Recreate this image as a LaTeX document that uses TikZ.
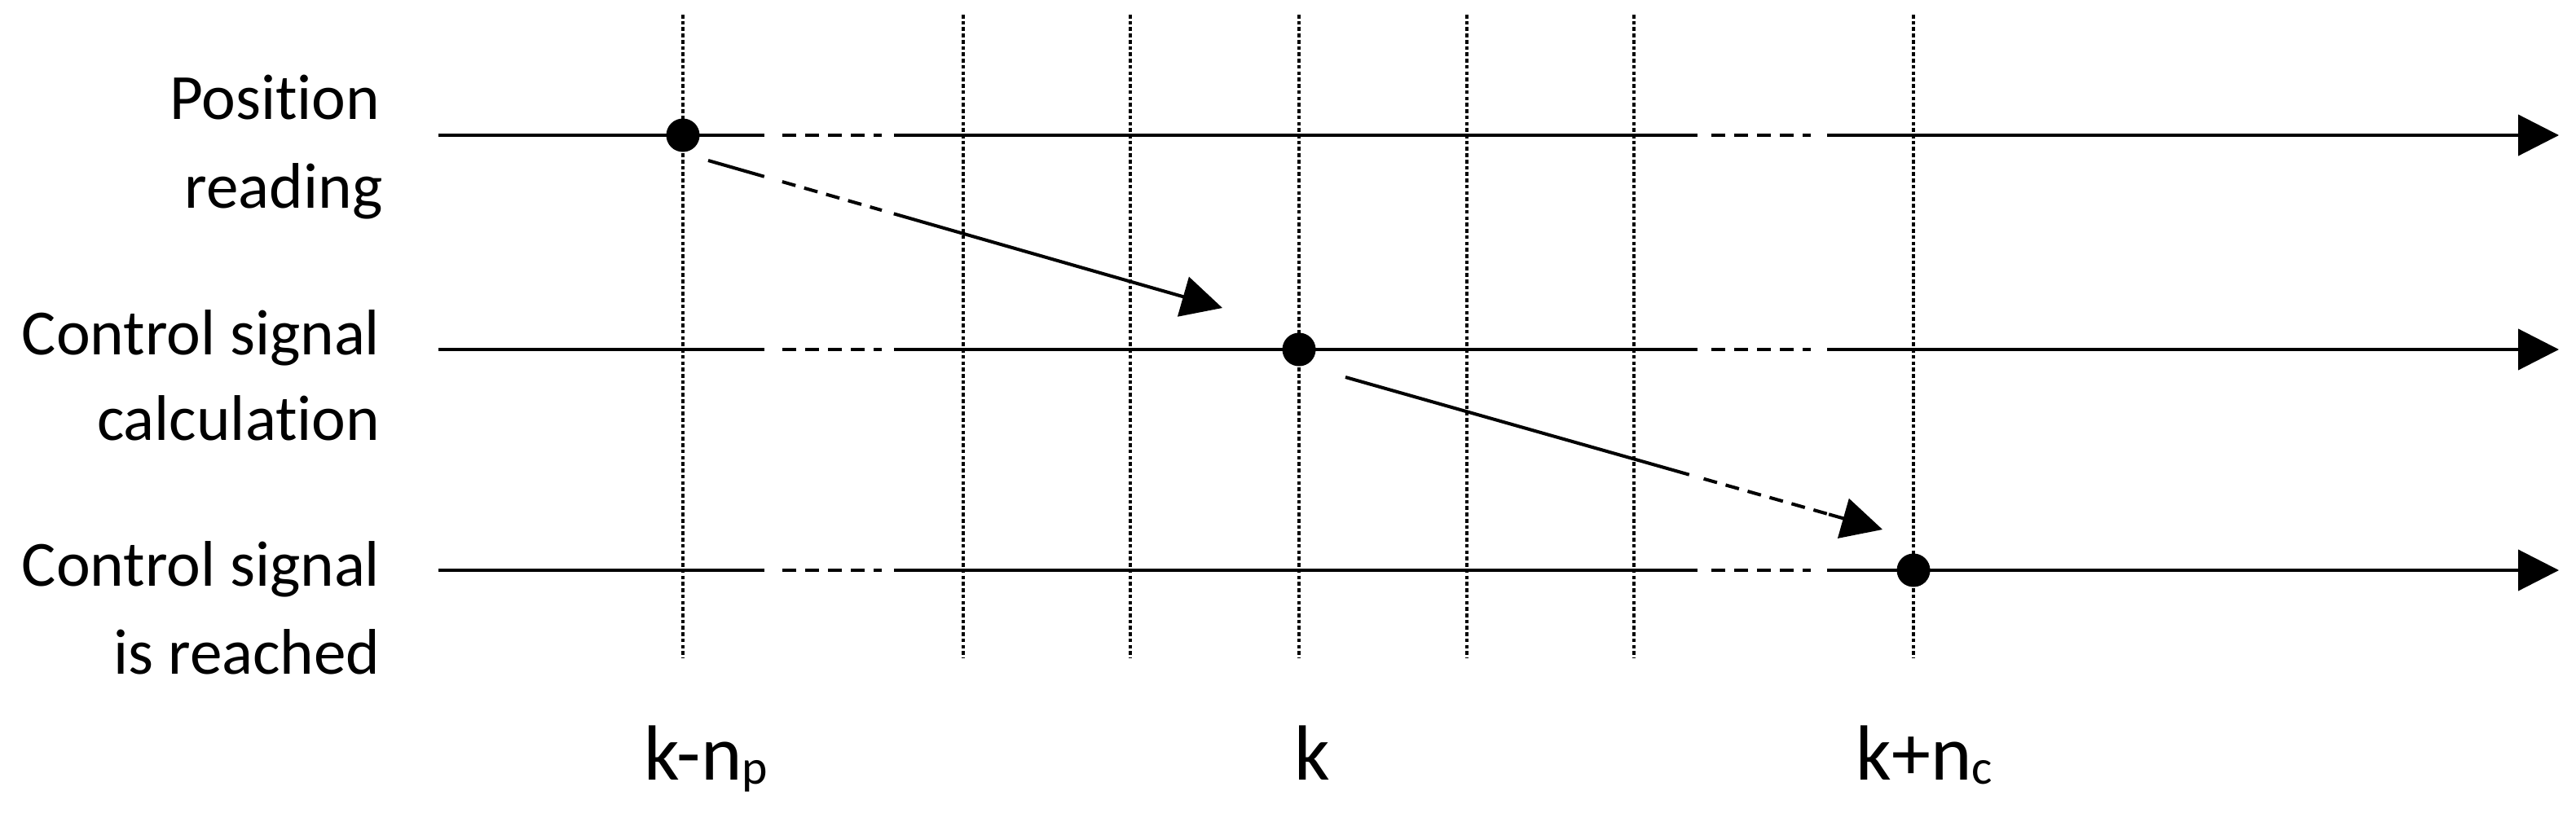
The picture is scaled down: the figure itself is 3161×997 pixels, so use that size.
\documentclass[tikz,border=0pt]{standalone}
\usepackage{fontspec}
\setmainfont[Ligatures={NoCommon}]{Carlito}
\usetikzlibrary{arrows.meta,calc}
\newcommand\subtx[1]{\raisebox{-0.05cm}{\fontsize{17}{18}\selectfont #1}}
\begin{document}
\begin{tikzpicture}[x=0.01cm,y=-0.01cm,
  tl/.style={line width=1.15pt},
  gapdash/.style={line width=1.15pt, dash pattern=on 0.17cm off 0.11cm},
  gridline/.style={line width=0.9pt, dash pattern=on 1.3pt off 0.9pt},
  dot/.style={circle, fill=black, inner sep=0pt, minimum size=0.41cm},
  lab/.style={font=\fontsize{22.5}{27}\selectfont, anchor=base east, inner sep=0pt},
  tick/.style={font=\fontsize{27.3}{32}\selectfont, anchor=base west, inner sep=0pt},
  head/.style={-{Triangle[length=0.5cm,width=0.5cm]}},
]
\useasboundingbox (0,0) rectangle (3161,997);

% vertical dotted grid
\foreach \x [count=\i] in {838,1182,1387,1594,1800,2005,2348} {
  \coordinate (g\i-t) at (\x,18);
  \coordinate (g\i-b) at (\x,808);
  \draw[gridline] (g\i-t) -- (g\i-b);
}

% horizontal time lines
\foreach \y [count=\j] in {166,429,700} {
  \coordinate (h\j-a) at (538,\y);
  \coordinate (h\j-b) at (938,\y);
  \coordinate (h\j-c) at (960,\y);
  \coordinate (h\j-d) at (1082,\y);
  \coordinate (h\j-e) at (1097,\y);
  \coordinate (h\j-f) at (2083,\y);
  \coordinate (h\j-g) at (2100,\y);
  \coordinate (h\j-h) at (2222,\y);
  \coordinate (h\j-i) at (2242,\y);
  \coordinate (h\j-z) at (3140,\y);
  \draw[tl] (h\j-a) -- (h\j-b);
  \draw[gapdash] (h\j-c) -- (h\j-d);
  \draw[tl] (h\j-e) -- (h\j-f);
  \draw[gapdash] (h\j-g) -- (h\j-h);
  \draw[tl,head] (h\j-i) -- (h\j-z);
}

% event dots
\node[dot] (d1) at (838,166) {};
\node[dot] (d2) at (1594,429) {};
\node[dot] (d3) at (2348,700) {};

% diagonal arrow 1
\coordinate (a1s) at (869,197);
\coordinate (a1t) at (1500,378);
\coordinate (a1p) at ($(a1s)!0.109!(a1t)$);
\coordinate (a1q) at ($(a1s)!0.144!(a1t)$);
\coordinate (a1r) at ($(a1s)!0.3376!(a1t)$);
\coordinate (a1u) at ($(a1s)!0.361!(a1t)$);
\draw[tl] (a1s) -- (a1p);
\draw[gapdash] (a1q) -- (a1r);
\draw[tl,head] (a1u) -- (a1t);

% diagonal arrow 2
\coordinate (a2s) at (1651,463);
\coordinate (a2t) at (2310,650);
\coordinate (a2p) at ($(a2s)!0.640!(a2t)$);
\coordinate (a2q) at ($(a2s)!0.667!(a2t)$);
\coordinate (a2r) at ($(a2s)!0.905!(a2t)$);
\coordinate (a2u) at ($(a2s)!0.90!(a2t)$);
\draw[tl] (a2s) -- (a2p);
\draw[gapdash] (a2q) -- (a2r);
\draw[tl,head] (a2u) -- (a2t);

% row labels
\node[lab] (l1a) at (467,147) {Position};
\node[lab] (l1b) at (470,255) {reading};
\node[lab] (l2a) at (467,435) {Control signal};
\node[lab] (l2b) at (467,540) {calculation};
\node[lab] (l3a) at (467,719) {Control signal};
\node[lab] (l3b) at (467,827) {is reached};

% time labels
\node[tick] (t1) at (790,957) {k-n\subtx{p}};
\node[tick] (t2) at (1588,957) {k};
\node[tick] (t3) at (2277,957) {k+n\subtx{c}};
\end{tikzpicture}
\end{document}
